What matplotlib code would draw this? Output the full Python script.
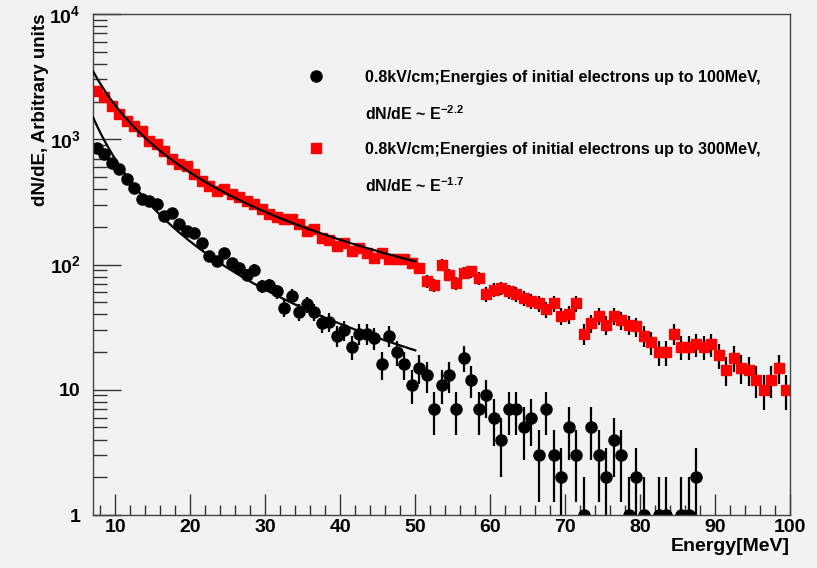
import numpy as np
import matplotlib
matplotlib.use("Agg")
import matplotlib.pyplot as plt
from matplotlib.lines import Line2D
from matplotlib.ticker import LogLocator, NullFormatter, MultipleLocator

plt.rcParams["font.family"] = ["Liberation Sans", "DejaVu Sans"]
plt.rcParams["font.weight"] = "bold"
plt.rcParams["mathtext.fontset"] = "custom"
plt.rcParams["mathtext.rm"] = "Liberation Sans:bold"
plt.rcParams["mathtext.it"] = "Liberation Sans:bold"
plt.rcParams["mathtext.bf"] = "Liberation Sans:bold"

# 1 MeV bins between 7 and 100 MeV (bin centres)
energy = np.arange(7.5, 100.0, 1.0)

# 0.8kV/cm, initial electrons up to 300 MeV (red squares)
counts_300 = [
    2430, 2155, 1848, 1585, 1400, 1278, 1166, 970, 912, 806,
    692, 631, 612, 525, 464, 423, 386, 398, 363, 344,
    321, 302, 275, 255, 240,
    232, 229, 209, 185, 191, 163, 158, 140, 149, 128,
    136, 124, 113, 124, 110, 110, 110, 103, 94, 74,
    69, 100, 83, 71, 86, 88, 78, 58, 63, 65,
    61, 58, 54, 51,
    49, 44, 49, 39, 40, 49, 28, 34, 39, 33,
    39, 36, 33, 32, 27, 24, 20, 20, 28, 22,
    22, 23, 22, 23, 19, 14.5, 18, 15, 14.5, 12,
    10, 12, 15, 10,
]

# 0.8kV/cm, initial electrons up to 100 MeV (black circles)
counts_100 = [
    858, 759, 651, 575, 479, 411, 331, 321, 302, 244, 259, 209, 185, 179,
    149, 117, 106, 124, 103, 94, 83, 91, 67, 69,
    61, 45, 56, 42, 48, 42, 34, 35, 27, 30,
    22, 28, 28, 26, 16, 27, 20, 16, 11, 15,
    13, 7, 11, 13, 7,
    18, 12, 7, 9, 6, 4, 7, 7, 5, 6,
    3, 7, 3, 2, 5, 3, 1, 5, 3, 2,
    4, 3, 1, 2, 1, 0, 1, 1, 0, 1,
    1, 2,
    0, 0, 0, 0, 0, 0, 0, 0, 0, 0, 0, 0,
]

# power-law fits dN/dE = norm * (E/7)^-index, drawn from 7 to 50 MeV
fit_range = (7.0, 50.0)
fit_100 = (1500.0, 2.18)
fit_300 = (3500.0, 1.78)

labels = [
    "0.8kV/cm;Energies of initial electrons up to 100MeV,",
    r"dN/dE ~ E$^{-2.2}$",
    "0.8kV/cm;Energies of initial electrons up to 300MeV,",
    r"dN/dE ~ E$^{-1.7}$",
]

bg = "#f2f2f2"
fig = plt.figure(figsize=(8.17, 5.68), dpi=100, facecolor=bg)
ax = fig.add_axes([93 / 817, 1 - 515 / 568, (790 - 93) / 817, (515 - 14) / 568])
ax.set_facecolor(bg)


def draw(counts, marker, color, ms):
    c = np.asarray(counts, dtype=float)
    keep = c > 0
    err = np.sqrt(c[keep])
    lo = np.minimum(err, c[keep] * 0.999)
    ax.errorbar(energy[keep], c[keep], yerr=[lo, err], fmt=marker, color=color,
                ecolor="black", elinewidth=1.6, ms=ms, mec=color, capsize=0, zorder=2)


draw(counts_300, "s", "#ff0000", 7.3)
draw(counts_100, "o", "black", 8.0)

e_fit = np.linspace(fit_range[0], fit_range[1], 300)
for norm, index in (fit_100, fit_300):
    ax.plot(e_fit, norm * (e_fit / 7.0) ** (-index), color="black", lw=1.6, zorder=3)

ax.set_yscale("log")
ax.set_xlim(7, 100)
ax.set_ylim(1, 1e4)

ax.xaxis.set_major_locator(MultipleLocator(10))
ax.xaxis.set_minor_locator(MultipleLocator(2))
ax.set_yticks([1, 10, 100, 1000, 10000])
ax.set_yticklabels(["1", "10", "$10^{2}$", "$10^{3}$", "$10^{4}$"])
ax.yaxis.set_minor_locator(LogLocator(base=10, subs=np.arange(2, 10)))
ax.yaxis.set_minor_formatter(NullFormatter())

ax.tick_params(axis="both", which="both", direction="in", top=False, right=False,
               color="#333333", width=1)
ax.tick_params(axis="x", which="major", length=15, labelsize=14, pad=3)
ax.tick_params(axis="x", which="minor", length=7)
ax.tick_params(axis="y", which="major", length=20, labelsize=14, pad=9)
ax.tick_params(axis="y", which="minor", length=10)
for sp in ax.spines.values():
    sp.set_color("#444444")
    sp.set_linewidth(1)

ax.set_xlabel("Energy[MeV]", fontsize=14, fontweight="bold", loc="right", labelpad=1)
ax.set_ylabel("dN/dE, Arbitrary units", fontsize=13.5, fontweight="bold", loc="top", labelpad=0)

blank = Line2D([], [], ls="none")
handles = [
    Line2D([], [], ls="none", marker="o", color="black", ms=8.0),
    blank,
    Line2D([], [], ls="none", marker="s", color="#ff0000", ms=7.3),
    blank,
]
ax.legend(handles, labels, loc="upper left", bbox_to_anchor=(300 / 817, 1 - 62 / 568),
          bbox_transform=fig.transFigure, frameon=False, fontsize=11.5,
          handlelength=1.0, handletextpad=2.6, labelspacing=1.2, borderpad=0)

fig.savefig("out.png", dpi=100, facecolor=bg)
